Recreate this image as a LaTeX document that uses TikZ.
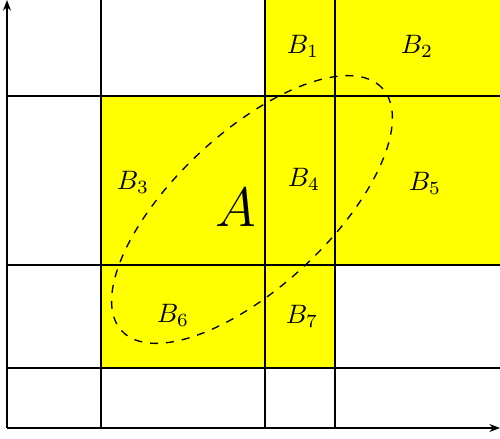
\documentclass[tikz,border=0pt]{standalone}
\usetikzlibrary{arrows.meta}
\definecolor{pureyellow}{RGB}{255,255,0}
\begin{document}
\begin{tikzpicture}[x=0.375pt,y=0.375pt,
  gridline/.style={black,line width=0.5pt},
  axisline/.style={black,line width=0.5pt,-{Stealth[length=4pt,width=3pt]}},
  zone/.style={fill=pureyellow,draw=none},
  lab/.style={inner sep=0pt}]
\useasboundingbox (0,0) rectangle (500,438);
% yellow zones
\fill[zone] (265,342) rectangle (500,438);
\fill[zone] (101,173) rectangle (500,342);
\fill[zone] (101,70) rectangle (335,173);
% grid
\foreach \gx in {101,265,335} \draw[gridline] (\gx,10) -- (\gx,438);
\foreach \gy in {342,173,70} \draw[gridline] (7,\gy) -- (500,\gy);
% axes
\coordinate (O) at (7,10);
\coordinate (Ytop) at (7,438);
\coordinate (Xend) at (500,10);
\draw[axisline] (O) -- (Ytop);
\draw[axisline] (O) -- (Xend);
% ellipse
\coordinate (C) at (252,228.5);
\draw[dashed,line width=0.5pt] (C) ellipse [x radius=66.75pt, y radius=28.9pt, rotate=43];
% labels
\node[lab] (b1) at (303,392) {$B_1$};
\node[lab] (b2) at (417,392) {$B_2$};
\node[lab] (b3) at (133,256) {$B_3$};
\node[lab] (b4) at (304,259) {$B_4$};
\node[lab] (b5) at (425,255) {$B_5$};
\node[lab] (a) at (236,230) {\huge $A$};
\node[lab] (b6) at (173,123) {$B_6$};
\node[lab] (b7) at (302,122) {$B_7$};
\end{tikzpicture}
\end{document}
